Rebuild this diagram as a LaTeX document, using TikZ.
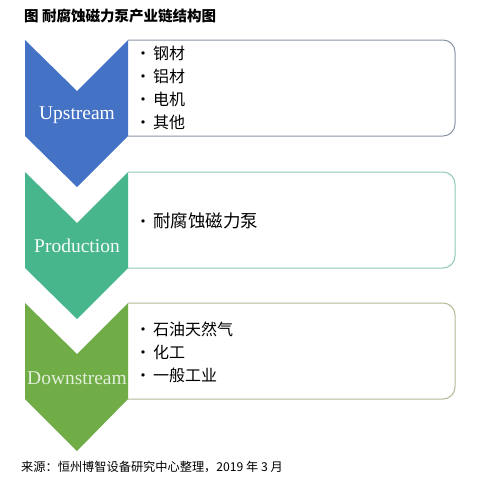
\documentclass[tikz,border=0pt]{standalone}
\usepackage{fontspec}
\setmainfont{Liberation Serif}
\newfontfamily\cjk{Noto Sans CJK SC}
\definecolor{upblue}{HTML}{4472C4}
\definecolor{prodteal}{HTML}{48B68C}
\definecolor{downgreen}{HTML}{70AD47}
\definecolor{upline}{HTML}{8A94A6}
\definecolor{prodline}{HTML}{8FC9BA}
\definecolor{downline}{HTML}{B5BA95}
\newcommand{\itm}[1]{\makebox[18pt][l]{\fontsize{16}{16}\selectfont\textbullet}#1}
\tikzset{
  chevlabel/.style={font=\fontsize{19.5}{20}\selectfont, inner sep=0pt},
  itemlist/.style={font=\cjk\fontsize{16}{23}\selectfont, align=left, anchor=west, inner sep=0pt},
}
\begin{document}
\begin{tikzpicture}[x=1pt,y=-1pt]
	\useasboundingbox[fill=white] (0,0) rectangle (500,488);
	\node[anchor=west, inner sep=0pt, font=\cjk\bfseries\fontsize{14.5}{14.5}\selectfont] (title) at (24,16) {图\ 耐腐蚀磁力泵产业链结构图};
	% boxes
	\draw[upline, fill=white, line width=1pt, rounded corners=12pt] (128,40) -- (455,40) -- (455,136) -- (128,136);
	\draw[prodline, fill=white, line width=1pt, rounded corners=12pt] (128,172) -- (455,172) -- (455,268) -- (128,268);
	\draw[downline, fill=white, line width=1pt, rounded corners=12pt] (128,303) -- (455,303) -- (455,399) -- (128,399);
	% chevrons
	\fill[upblue] (25,40) -- (77,91) -- (128,40) -- (128,136) -- (77,187) -- (25,136) -- cycle;
	\fill[prodteal] (25,172) -- (77,223) -- (128,172) -- (128,268) -- (77,319) -- (25,268) -- cycle;
	\fill[downgreen] (25,303) -- (77,354) -- (128,303) -- (128,399) -- (77,451) -- (25,399) -- cycle;
	\node[chevlabel, text=white] (up) at (77,115) {Upstream};
	\node[chevlabel, text=white!95!prodteal] (prod) at (77,246) {Production};
	\node[chevlabel, text=downgreen!20!white] (down) at (77,378) {Downstream};
	% item lists
	\node[itemlist] (upitems) at (135,88) {\itm{钢材}\\ \itm{铝材}\\ \itm{电机}\\ \itm{其他}};
	\node[itemlist, font=\cjk\fontsize{17.5}{23}\selectfont] (proditems) at (135,221) {\itm{耐腐蚀磁力泵}};
	\node[itemlist] (downitems) at (135,352) {\itm{石油天然气}\\ \itm{化工}\\ \itm{一般工业}};
	\node[anchor=west, inner sep=0pt, font=\cjk\fontsize{12.2}{12.2}\selectfont] (source) at (21,467) {来源：恒州博智设备研究中心整理，2019 年 3 月};
\end{tikzpicture}
\end{document}
